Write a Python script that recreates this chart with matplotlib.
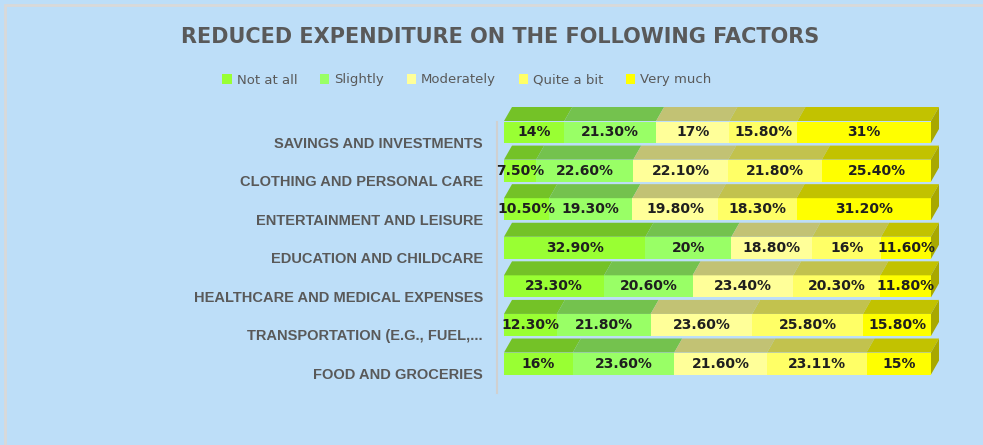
import numpy as np
import matplotlib
matplotlib.use("Agg")
import matplotlib.pyplot as plt
from matplotlib.patches import Polygon, Patch, Rectangle
from matplotlib.colors import to_rgb

# categories listed bottom to top, as the chart draws them
categories = ["FOOD AND GROCERIES",
              "TRANSPORTATION (E.G., FUEL,...",
              "HEALTHCARE AND MEDICAL EXPENSES",
              "EDUCATION AND CHILDCARE",
              "ENTERTAINMENT AND LEISURE",
              "CLOTHING AND PERSONAL CARE",
              "SAVINGS AND INVESTMENTS"]
series = ["Not at all", "Slightly", "Moderately", "Quite a bit", "Very much"]
not_at_all = [16, 12.3, 23.3, 32.9, 10.5, 7.5, 14]
slightly = [23.6, 21.8, 20.6, 20, 19.3, 22.6, 21.3]
moderately = [21.6, 23.6, 23.4, 18.8, 19.8, 22.1, 17]
quite_a_bit = [23.11, 25.8, 20.3, 16, 18.3, 21.8, 15.8]
very_much = [15, 15.8, 11.8, 11.6, 31.2, 25.4, 31]
colors = ["#99FF33", "#99FF66", "#FFFF99", "#FFFF66", "#FFFF00"]

bg = "#BDDEF8"
grey = "#595959"

vals = np.array([not_at_all, slightly, moderately, quite_a_bit, very_much], dtype=float)
pct = vals / vals.sum(axis=0) * 100  # 100% stacked

W, H = 983, 445
fig = plt.figure(figsize=(W / 100, H / 100), dpi=100, facecolor=bg)

# chart border (runs off the right and bottom edge)
fig.patches.append(Rectangle((5 / W, -0.1), 1.2, 1 - 5 / H + 0.1, transform=fig.transFigure,
                             fill=False, ec="#D9D9D9", lw=2))

ax = fig.add_axes([497 / W, (H - 393) / H, (945 - 497) / W, (393 - 122) / H])
ax.set_facecolor(bg)
pxx = (931 - 504) / 100.0
pxy = (363.5 - 132) / 6.0
ax.set_xlim((497 - 504) / pxx, 100 + (945 - 931) / pxx)
ax.set_ylim(-(393 - 363.5) / pxy, 6 + (132 - 122) / pxy)

h = 22 / pxy
dx = 8 / pxx
dy = 14 / pxy

y = np.arange(len(categories))
left = np.zeros(len(categories))
for i, name in enumerate(series):
    c = np.array(to_rgb(colors[i]))
    ax.barh(y, pct[i], left=left, height=h, color=colors[i], label=name, zorder=2)
    for j in range(len(categories)):
        x0 = left[j]
        x1 = left[j] + pct[i][j]
        yt = y[j] + h / 2
        top = Polygon([(x0, yt), (x1, yt), (x1 + dx, yt + dy), (x0 + dx, yt + dy)],
                      closed=True, fc=c * 0.76, ec="none", clip_on=False, zorder=2)
        ax.add_patch(top)
        if i == len(series) - 1:
            side = Polygon([(x1, yt), (x1 + dx, yt + dy), (x1 + dx, yt + dy - h), (x1, yt - h)],
                           closed=True, fc=c * 0.66, ec="none", clip_on=False, zorder=2)
            ax.add_patch(side)
        v = vals[i][j]
        txt = f"{int(v)}%" if float(v).is_integer() else f"{v:.2f}%"
        ax.text((x0 + x1) / 2, y[j], txt, ha="center", va="center", fontsize=10,
                fontweight="bold", color="#1F1F1F", zorder=3, clip_on=False)
    left = left + pct[i]

for s in ["top", "right", "bottom"]:
    ax.spines[s].set_visible(False)
ax.spines["left"].set_color("#D0D0D0")
ax.spines["left"].set_linewidth(1.5)
ax.set_xticks([])
ax.set_yticks(y - 10 / pxy, categories)
ax.tick_params(axis="y", length=0, pad=10)
for lab in ax.get_yticklabels():
    lab.set_fontfamily("Liberation Sans")
    lab.set_fontweight("bold")
    lab.set_fontsize(10.5)
    lab.set_color(grey)

fig.text(500 / W, 1 - 37 / H, "REDUCED EXPENDITURE ON THE FOLLOWING FACTORS",
         ha="center", va="center", fontsize=15, fontweight="bold", color=grey)

handles = [Patch(fc=colors[i], ec="none") for i in range(len(series))]
fig.legend(handles, series, loc="center", bbox_to_anchor=(467 / W, 1 - 80 / H), ncol=5,
           frameon=False, fontsize=9.5, labelcolor=grey, handlelength=0.7, handleheight=0.7,
           handletextpad=0.4, columnspacing=1.7)

fig.savefig("out.png", dpi=100, facecolor=bg)
